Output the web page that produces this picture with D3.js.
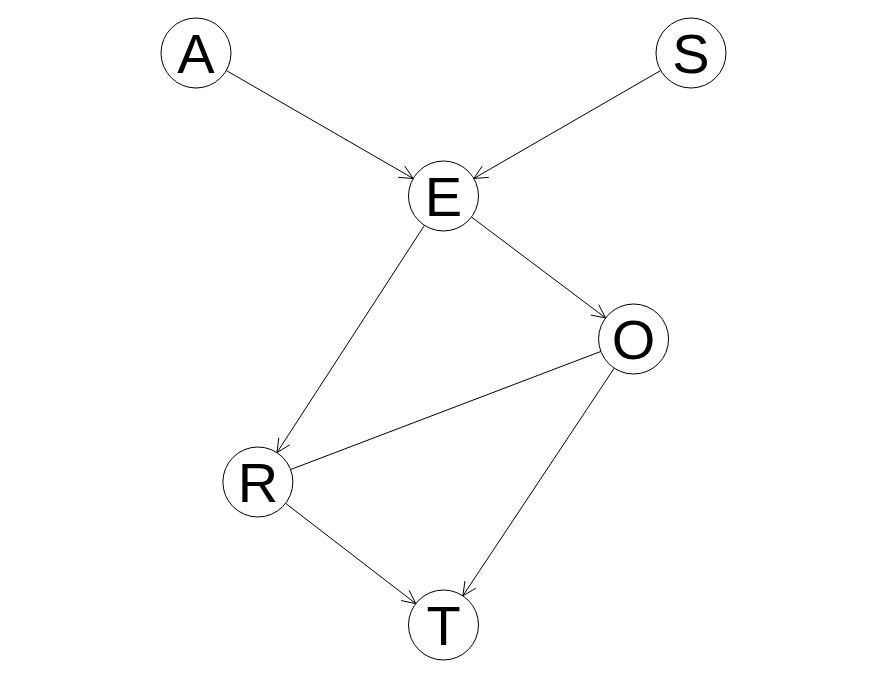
<!DOCTYPE html>
<html>
<head>
<meta charset="utf-8">
<script src="https://cdn.jsdelivr.net/npm/d3@7"></script>
<style>body{margin:0;background:#fff}</style>
</head>
<body>
<svg id="chart"></svg>
<script>
// node layout (graph units)
const nodes = ["A", "S", "E", "O", "R", "T"];
const nodeX = [0.0, 1.0, 0.5, 0.884, 0.125, 0.5];
const nodeY = [0.0, 0.0, 0.25, 0.5, 0.75, 1.0];
// edges: from, to, directed
const edgeFrom = ["A", "S", "E", "E", "O", "R", "O"];
const edgeTo = ["E", "E", "O", "R", "R", "T", "T"];
const edgeDirected = [true, true, true, true, false, true, true];

const width = 889, height = 677, r = 35;
const svg = d3.select('#chart').attr('width', width).attr('height', height);

const x = d3.scaleLinear().domain([0, 1]).range([196, 691]);
const y = d3.scaleLinear().domain([0, 1]).range([53, 625]);

const pos = {};
nodes.forEach((n, i) => pos[n] = [x(nodeX[i]), y(nodeY[i])]);

const g = svg.append('g');
edgeFrom.forEach((f, i) => {
  const [x1, y1] = pos[f], [x2, y2] = pos[edgeTo[i]];
  const dx = x2 - x1, dy = y2 - y1, len = Math.hypot(dx, dy);
  const ux = dx / len, uy = dy / len;
  const sx = x1 + ux * r, sy = y1 + uy * r, ex = x2 - ux * r, ey = y2 - uy * r;
  g.append('line').attr('x1', sx).attr('y1', sy).attr('x2', ex).attr('y2', ey)
    .attr('stroke', 'black').attr('stroke-width', 1);
  if (edgeDirected[i]) {
    const a = Math.atan2(uy, ux), hl = 15, ha = Math.PI / 7;
    const p = [a - ha, a + ha].map(t => [ex - hl * Math.cos(t), ey - hl * Math.sin(t)]);
    g.append('path')
      .attr('d', `M${p[0][0]},${p[0][1]}L${ex},${ey}L${p[1][0]},${p[1][1]}`)
      .attr('fill', 'none').attr('stroke', 'black').attr('stroke-width', 1);
  }
});

const node = svg.selectAll('g.node').data(nodes).enter().append('g')
  .attr('transform', d => `translate(${pos[d][0]},${pos[d][1]})`);
node.append('circle').attr('r', r).attr('fill', 'white').attr('stroke', 'black');
node.append('text').text(d => d)
  .attr('text-anchor', 'middle').attr('dy', '0.36em')
  .attr('font-family', 'Liberation Sans, Arial, sans-serif')
  .attr('font-size', 56);
</script>
</body>
</html>
